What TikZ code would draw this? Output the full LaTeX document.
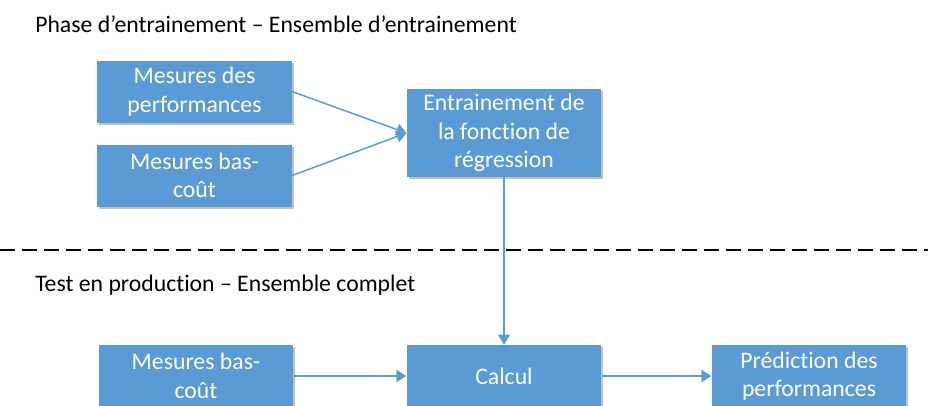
\documentclass[tikz,border=0pt]{standalone}
\usepackage{fontspec}
\setmainfont[Ligatures=CommonOff]{Carlito}
\usetikzlibrary{arrows.meta,shadows}
\definecolor{bleu}{HTML}{5B9BD5}

\begin{document}
\begin{tikzpicture}[x=0.75pt,y=-0.75pt,
    boite/.style={fill=bleu,text=white,align=center,inner sep=0pt,
      minimum width=146pt,minimum height=46.5pt,
      font=\fontsize{17.8}{21.5}\selectfont,
      drop shadow={shadow xshift=1.5pt,shadow yshift=-1.5pt,opacity=0.35,fill=black!70}},
    fleche/.style={draw=bleu,line width=1.1pt,-{Triangle[width=9pt,length=7.5pt]}},
    titre/.style={anchor=west,inner sep=0pt,font=\fontsize{17.8}{21.5}\selectfont}]
      \useasboundingbox (0,0) rectangle (928,405);
      % phase d'entrainement
      \node[titre] (t1) at (35,24) {Phase d’entrainement – Ensemble d’entrainement};
      \node[boite] (perf) at (194.5,91.5) {Mesures des\\performances};
      \node[boite] (bas1) at (194.5,175.5) {Mesures bas-\\coût};
      \node[boite,minimum height=66pt] (entr) at (504,133) {Entrainement de\\la fonction de\\régression};
      \draw[fleche] (perf.east)--(entr.west);
      \draw[fleche] (bas1.east)--(entr.west);
      % separation
      \draw[line width=1.5pt,dash pattern=on 11.25pt off 5.25pt] (0,250)--(928,250);
      % test en production
      \node[titre] (t2) at (35,285) {Test en production – Ensemble complet};
      \node[boite] (bas2) at (196,376) {Mesures bas-\\coût};
      \node[boite] (calc) at (504,376) {Calcul};
      \node[boite] (pred) at (809,376) {Prédiction des\\performances};
      \draw[fleche] (entr.south)--(calc.north);
      \draw[fleche] (bas2.east)--(calc.west);
      \draw[fleche] (calc.east)--(pred.west);
    \end{tikzpicture}
\end{document}
